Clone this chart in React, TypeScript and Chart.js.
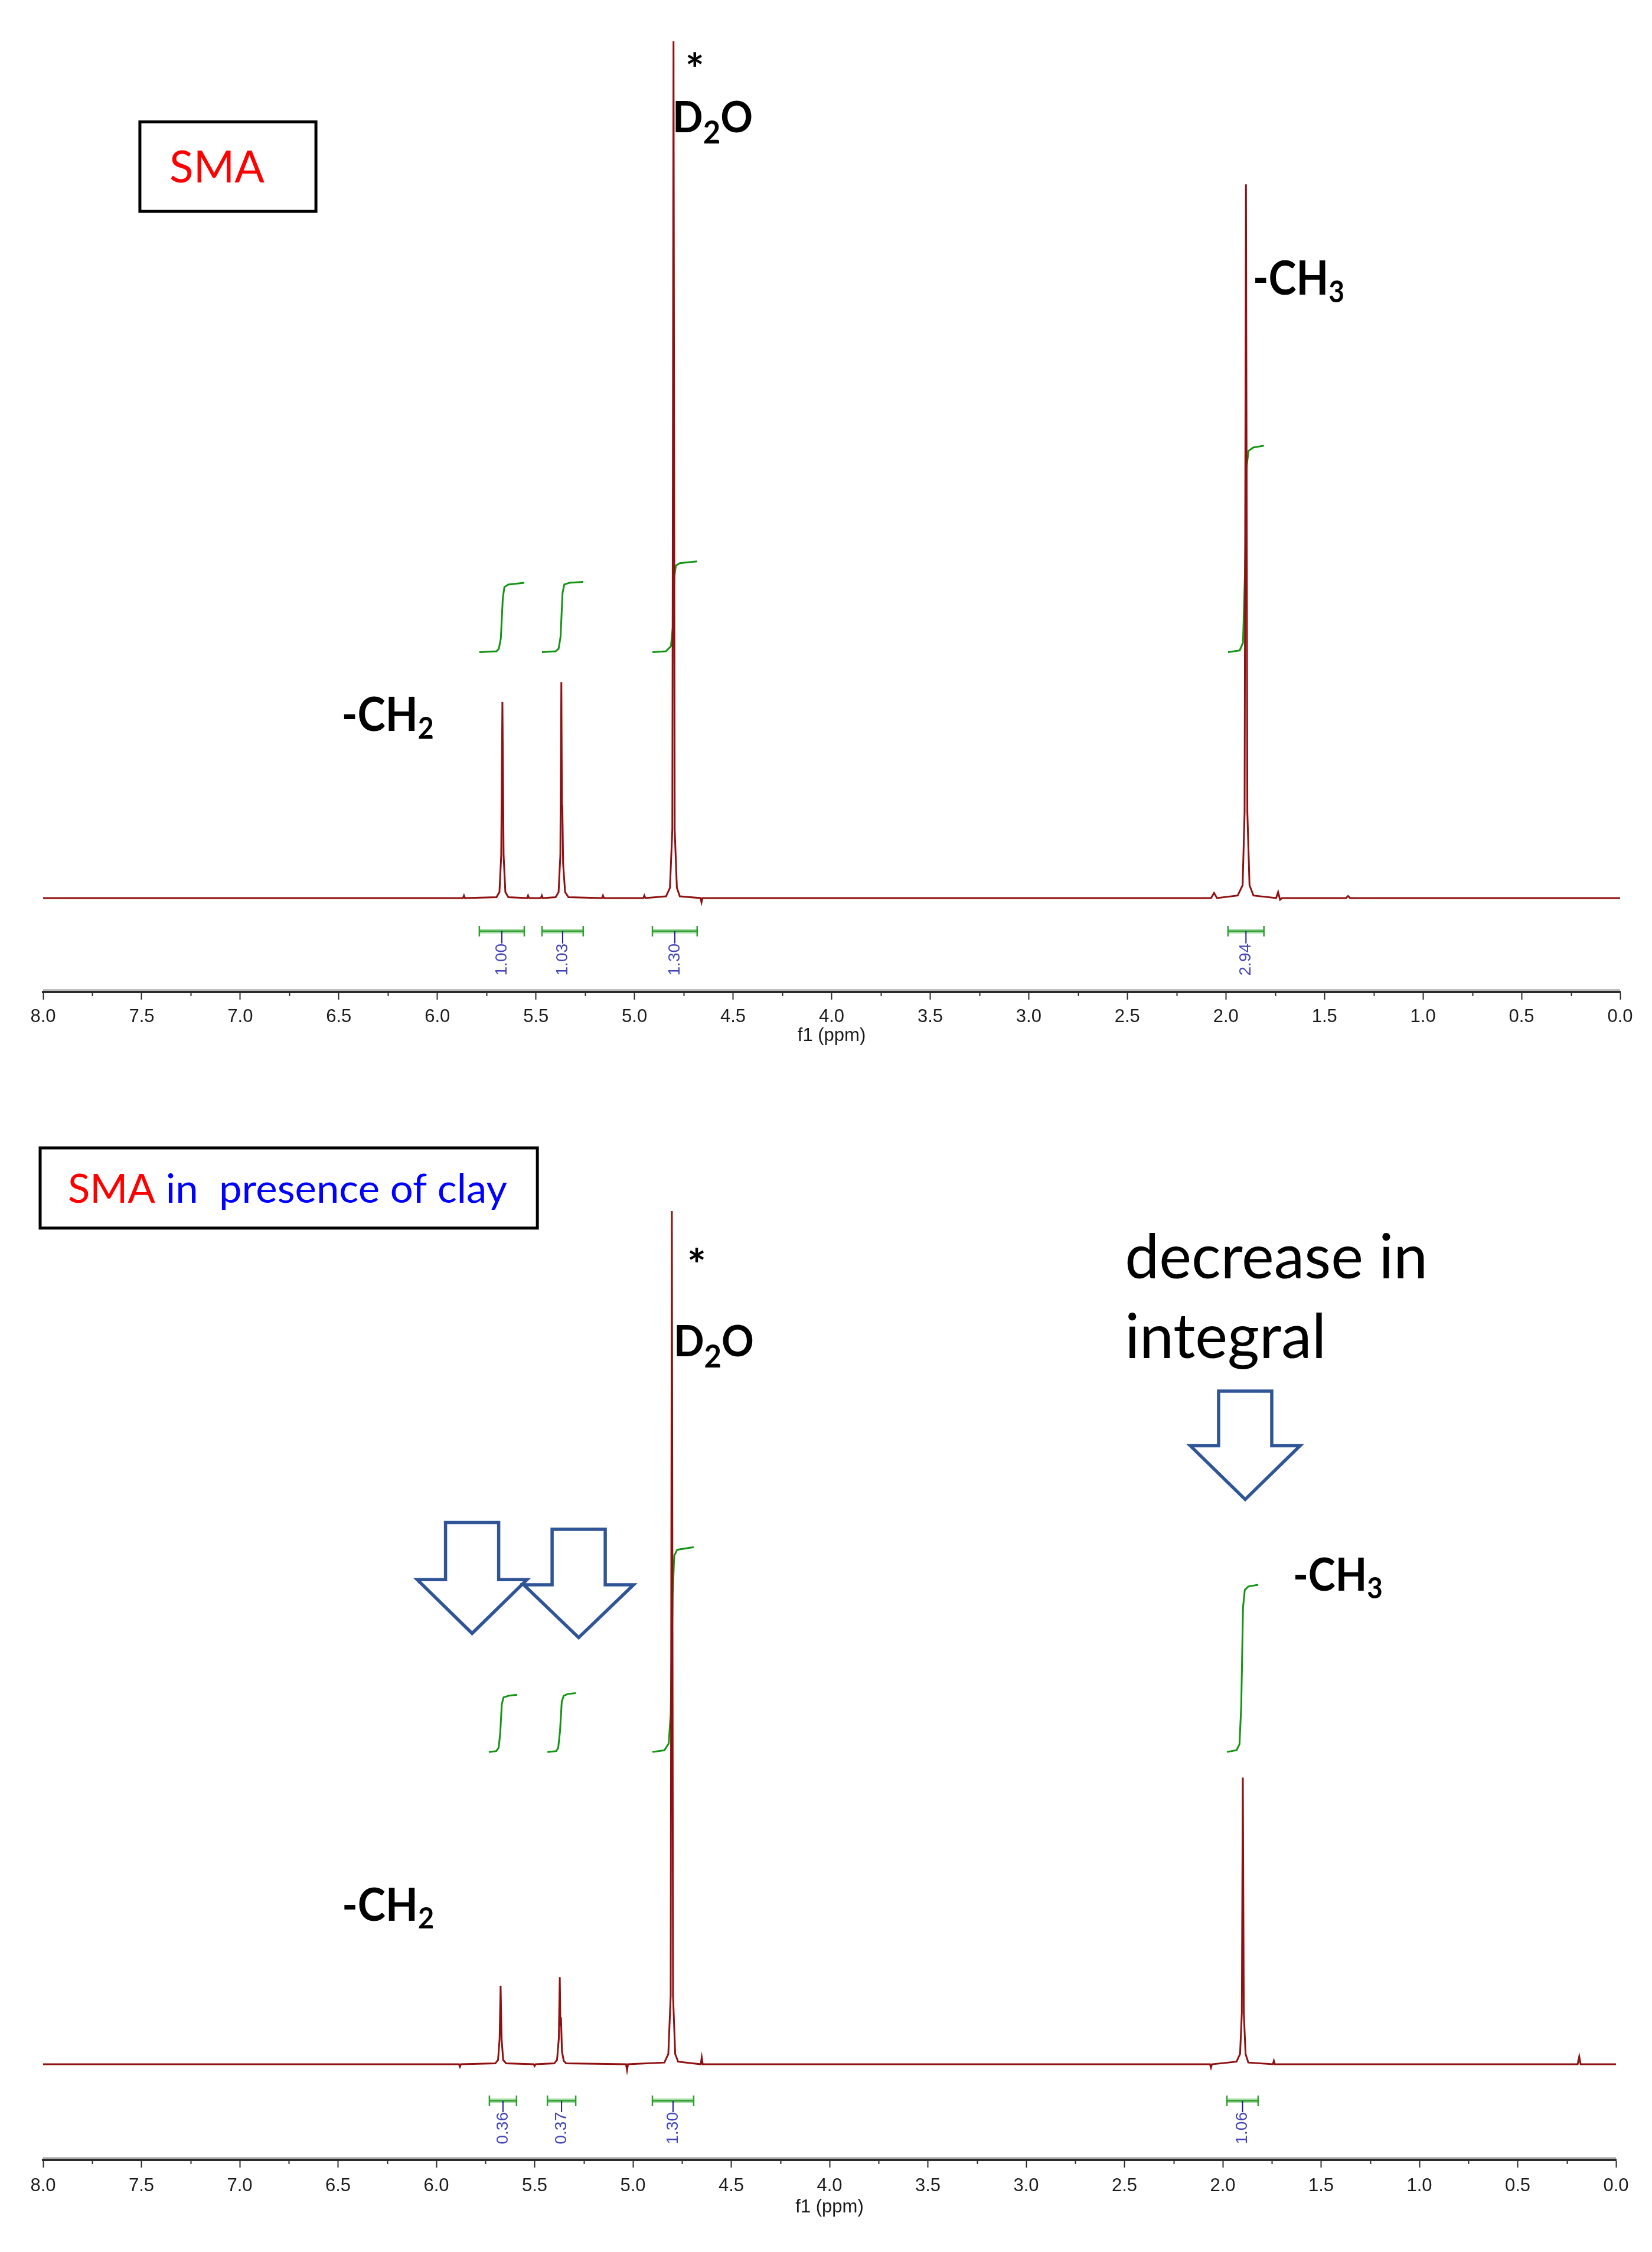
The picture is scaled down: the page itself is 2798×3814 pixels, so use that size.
import { useEffect, useRef } from 'react';
import { Chart, registerables } from 'chart.js';

Chart.register(...registerables);

type Pt = [number, number];

// ---------------- axis ticks (ppm) ----------------
const ppmMajorTicks = [0, 0.5, 1, 1.5, 2, 2.5, 3, 3.5, 4, 4.5, 5, 5.5, 6, 6.5, 7, 7.5, 8];
const ppmMinorTicks = [0.25, 0.75, 1.25, 1.75, 2.25, 2.75, 3.25, 3.75, 4.25, 4.75, 5.25, 5.75, 6.25, 6.75, 7.25, 7.75];
const axisTitle = 'f1 (ppm)';

// ---------------- SMA spectrum (ppm, intensity) ----------------
const smaSpectrum: Pt[] = [
  [8.0, 0], [6.2, 0], [5.87, 0], [5.865, 0.3], [5.86, 0],
  [5.70, 0.1], [5.685, 0.7], [5.676, 5], [5.670, 22.9], [5.664, 5], [5.655, 0.7], [5.64, 0.1],
  [5.545, 0], [5.54, 0.3], [5.535, 0], [5.475, 0], [5.47, 0.3], [5.465, 0],
  [5.40, 0.1], [5.385, 0.7], [5.376, 5], [5.371, 25.2], [5.368, 10], [5.366, 10.8], [5.362, 4], [5.352, 0.7], [5.335, 0.1],
  [5.165, 0], [5.16, 0.3], [5.155, 0], [4.955, 0], [4.95, 0.3], [4.945, 0],
  [4.84, 0.2], [4.82, 1.2], [4.808, 8], [4.802, 100], [4.796, 8], [4.785, 1.2], [4.77, 0.2],
  [4.665, 0], [4.66, -0.5], [4.655, 0],
  [2.075, 0], [2.06, 0.6], [2.045, 0],
  [1.94, 0.3], [1.915, 1.5], [1.905, 10], [1.898, 83.3], [1.891, 10], [1.88, 1.5], [1.86, 0.3],
  [1.745, 0], [1.735, 0.7], [1.725, -0.2], [1.715, 0],
  [1.39, 0], [1.38, 0.25], [1.37, 0], [0, 0],
];

// SMA integral curves (ppm, running integral)
const smaIntegralCH2a: Pt[] = [[5.787, 28.7], [5.70, 28.8], [5.688, 29.1], [5.678, 30.3], [5.668, 35.0], [5.660, 36.3], [5.64, 36.6], [5.559, 36.8]];
const smaIntegralCH2b: Pt[] = [[5.469, 28.7], [5.40, 28.8], [5.385, 29.1], [5.375, 30.5], [5.365, 35.6], [5.356, 36.6], [5.33, 36.8], [5.260, 36.9]];
const smaIntegralD2O: Pt[] = [[4.909, 28.7], [4.84, 28.8], [4.815, 29.4], [4.806, 31.5], [4.798, 37.5], [4.79, 38.8], [4.77, 39.1], [4.682, 39.3]];
const smaIntegralCH3: Pt[] = [[1.989, 28.7], [1.93, 28.9], [1.913, 29.8], [1.903, 38], [1.894, 50.5], [1.885, 52.2], [1.86, 52.6], [1.807, 52.8]];
const smaIntegralRanges: Pt[] = [[5.787, 5.559], [5.469, 5.260], [4.909, 4.682], [1.989, 1.807]];
const smaIntegralValues = ['1.00', '1.03', '1.30', '2.94'];

// ---------------- SMA + clay spectrum ----------------
const claySpectrum: Pt[] = [
  [8.0, 0], [6.2, 0], [5.885, 0], [5.88, -0.3], [5.875, 0],
  [5.70, 0.1], [5.686, 0.5], [5.678, 3], [5.673, 9.2], [5.668, 3], [5.66, 0.5], [5.645, 0.1],
  [5.505, 0], [5.50, -0.2], [5.495, 0],
  [5.40, 0.1], [5.386, 0.5], [5.377, 3], [5.372, 10.2], [5.369, 4.5], [5.366, 5.5], [5.361, 1.5], [5.352, 0.4], [5.34, 0.1],
  [5.035, 0], [5.03, -0.7], [5.025, 0],
  [4.84, 0.2], [4.82, 1.2], [4.808, 8], [4.802, 100], [4.796, 8], [4.785, 1.2], [4.77, 0.3],
  [4.655, 0], [4.65, 0.8], [4.645, 0],
  [2.065, 0], [2.06, -0.4], [2.055, 0],
  [1.93, 0.3], [1.912, 1.2], [1.903, 6], [1.898, 33.6], [1.893, 6], [1.884, 1.2], [1.87, 0.2],
  [1.745, 0], [1.74, 0.4], [1.735, 0],
  [0.195, 0], [0.187, 0.9], [0.18, 0], [0, 0],
];

const clayIntegralCH2a: Pt[] = [[5.733, 36.6], [5.695, 36.7], [5.683, 37.1], [5.675, 38.8], [5.667, 42.2], [5.658, 43.0], [5.63, 43.2], [5.589, 43.3]];
const clayIntegralCH2b: Pt[] = [[5.435, 36.6], [5.39, 36.7], [5.38, 37.1], [5.371, 39.0], [5.362, 42.5], [5.352, 43.2], [5.33, 43.4], [5.291, 43.5]];
const clayIntegralD2O: Pt[] = [[4.901, 36.6], [4.84, 36.8], [4.818, 37.6], [4.808, 41], [4.798, 55], [4.79, 59.6], [4.775, 60.3], [4.691, 60.6]];
const clayIntegralCH3: Pt[] = [[1.979, 36.6], [1.93, 36.8], [1.915, 37.5], [1.906, 42], [1.897, 53.5], [1.888, 55.6], [1.87, 56.0], [1.820, 56.2]];
const clayIntegralRanges: Pt[] = [[5.730, 5.592], [5.435, 5.291], [4.901, 4.691], [1.979, 1.820]];
const clayIntegralValues = ['0.36', '0.37', '1.30', '1.06'];

// ---------------- annotation layout ----------------
type Seg = { t: string; sub?: boolean; color?: string };
type TextCfg = { segs: Seg[]; ppm: number; val: number; size: number; weight: number; width: number; subSize?: number; subDrop?: number };
type ArrowCfg = { ppm: number; top: number; shoulder: number; tip: number };
type BoxCfg = { p1: number; p2: number; v1: number; v2: number };

type Panel = {
  canvasH: number; padTop: number; padLeft: number; padRight: number; axisH: number;
  yMin: number; yMax: number; tickPad: number; titlePadBottom: number;
  spectrum: Pt[]; integrals: Pt[][]; ranges: Pt[]; values: string[];
  bracketOffset: number; labelOffset: number;
  box: BoxCfg; texts: TextCfg[]; arrows: ArrowCfg[];
};

const RED = '#FF0000';
const BLUE = '#0000FF';

const topPanel: Panel = {
  canvasH: 1790, padTop: 62, padLeft: 65, padRight: 46, axisH: 118,
  yMin: -10.96, yMax: 100, tickPad: 11, titlePadBottom: 25,
  spectrum: smaSpectrum,
  integrals: [smaIntegralCH2a, smaIntegralCH2b, smaIntegralD2O, smaIntegralCH3],
  ranges: smaIntegralRanges, values: smaIntegralValues,
  bracketOffset: 56, labelOffset: 21,
  box: { p1: 7.509, p2: 6.616, v1: 90.6, v2: 80.15 },
  texts: [
    { segs: [{ t: 'SMA', color: RED }], ppm: 7.359, val: 83.5, size: 75, weight: 400, width: 161 },
    { segs: [{ t: '*' }], ppm: 4.742, val: 94.9, size: 72, weight: 700, width: 32 },
    { segs: [{ t: 'D' }, { t: '2', sub: true }, { t: 'O' }], ppm: 4.807, val: 89.4, size: 72, weight: 700, width: 136, subSize: 54, subDrop: 19 },
    { segs: [{ t: '-CH' }, { t: '3', sub: true }], ppm: 1.863, val: 70.4, size: 80, weight: 700, width: 155, subSize: 52, subDrop: 13 },
    { segs: [{ t: '-CH' }, { t: '2', sub: true }], ppm: 6.485, val: 19.5, size: 80, weight: 700, width: 156, subSize: 52, subDrop: 13 },
  ],
  arrows: [],
};

const bottomPanel: Panel = {
  canvasH: 1980, padTop: 253, padLeft: 65, padRight: 53, axisH: 120,
  yMin: -11.21, yMax: 100, tickPad: 13, titlePadBottom: 21,
  spectrum: claySpectrum,
  integrals: [clayIntegralCH2a, clayIntegralCH2b, clayIntegralD2O, clayIntegralCH3],
  ranges: clayIntegralRanges, values: clayIntegralValues,
  bracketOffset: 62, labelOffset: 19,
  box: { p1: 8.015, p2: 5.486, v1: 107.4, v2: 98.0 },
  texts: [
    { segs: [{ t: 'SMA', color: RED }, { t: ' in  presence of clay', color: BLUE }], ppm: 7.874, val: 100.97, size: 68, weight: 400, width: 744 },
    { segs: [{ t: '*' }], ppm: 4.724, val: 91.8, size: 72, weight: 700, width: 32 },
    { segs: [{ t: 'D' }, { t: '2', sub: true }, { t: 'O' }], ppm: 4.793, val: 83.0, size: 72, weight: 700, width: 136, subSize: 54, subDrop: 19 },
    { segs: [{ t: 'decrease in' }], ppm: 2.498, val: 92.1, size: 105, weight: 400, width: 513 },
    { segs: [{ t: 'integral' }], ppm: 2.498, val: 82.8, size: 105, weight: 400, width: 341 },
    { segs: [{ t: '-CH' }, { t: '3', sub: true }], ppm: 1.643, val: 55.5, size: 76, weight: 700, width: 152, subSize: 50, subDrop: 13 },
    { segs: [{ t: '-CH' }, { t: '2', sub: true }], ppm: 6.48, val: 16.8, size: 76, weight: 700, width: 156, subSize: 50, subDrop: 13 },
  ],
  arrows: [
    { ppm: 5.818, top: 63.5, shoulder: 56.8, tip: 50.5 },
    { ppm: 5.276, top: 62.7, shoulder: 56.2, tip: 50.0 },
    { ppm: 1.886, top: 78.9, shoulder: 72.5, tip: 66.2 },
  ],
};

// ---------------- drawing helpers ----------------
function drawRich(ctx: CanvasRenderingContext2D, cfg: TextCfg, x: number, baseline: number) {
  const fontFor = (s: Seg) => `${cfg.weight} ${s.sub ? cfg.subSize || cfg.size * 0.65 : cfg.size}px Lato, "Open Sans", sans-serif`;
  let total = 0;
  const widths = cfg.segs.map((s) => {
    ctx.font = fontFor(s);
    const m = ctx.measureText(s.t);
    total += m.width;
    return m.width;
  });
  const sx = cfg.width ? cfg.width / total : 1;
  ctx.save();
  ctx.translate(x, baseline);
  ctx.scale(sx, 1);
  ctx.textAlign = 'left';
  ctx.textBaseline = 'alphabetic';
  let cx = 0;
  cfg.segs.forEach((s, i) => {
    ctx.font = fontFor(s);
    ctx.fillStyle = s.color || '#000000';
    ctx.fillText(s.t, cx, s.sub ? cfg.subDrop || 0 : 0);
    cx += widths[i];
  });
  ctx.restore();
}

function makeDecor(panel: Panel) {
  return {
    id: 'nmrDecor',
    afterDraw(chart: any) {
      const ctx: CanvasRenderingContext2D = chart.ctx;
      const xs = chart.scales.x;
      const ys = chart.scales.y;
      const area = chart.chartArea;
      const px = (p: number) => xs.getPixelForValue(p);
      const py = (v: number) => ys.getPixelForValue(v);
      ctx.save();

      // axis: light band above the axis line + minor ticks
      ctx.strokeStyle = '#bdbdbd';
      ctx.lineWidth = 3;
      ctx.beginPath();
      ctx.moveTo(area.left, area.bottom - 3.5);
      ctx.lineTo(area.right, area.bottom - 3.5);
      ctx.stroke();
      ctx.strokeStyle = '#2a2a2a';
      ctx.lineWidth = 2;
      ppmMinorTicks.forEach((v) => {
        const x = Math.round(px(v)) + 0.5;
        ctx.beginPath();
        ctx.moveTo(x, area.bottom);
        ctx.lineTo(x, area.bottom + 7);
        ctx.stroke();
      });

      // integral brackets and values
      const base = py(0);
      const by = base + panel.bracketOffset;
      panel.ranges.forEach(([a, b], i) => {
        const x1 = px(a);
        const x2 = px(b);
        const xc = (x1 + x2) / 2;
        ctx.strokeStyle = 'rgba(70,180,70,0.45)';
        ctx.lineWidth = 8;
        ctx.beginPath();
        ctx.moveTo(x1, by);
        ctx.lineTo(x2, by);
        ctx.stroke();
        ctx.strokeStyle = '#2E9E2E';
        ctx.lineWidth = 2.5;
        ctx.beginPath();
        ctx.moveTo(x1, by);
        ctx.lineTo(x2, by);
        ctx.moveTo(x1, by - 9);
        ctx.lineTo(x1, by + 9);
        ctx.moveTo(x2, by - 9);
        ctx.lineTo(x2, by + 9);
        ctx.stroke();
        ctx.strokeStyle = '#1C1C8C';
        ctx.lineWidth = 2;
        ctx.beginPath();
        ctx.moveTo(xc, by);
        ctx.lineTo(xc, by + panel.labelOffset);
        ctx.stroke();
        ctx.save();
        ctx.translate(xc, by + panel.labelOffset);
        ctx.rotate(-Math.PI / 2);
        ctx.font = '28px "Liberation Sans", Arial, sans-serif';
        ctx.fillStyle = '#4444B4';
        ctx.textAlign = 'right';
        ctx.textBaseline = 'middle';
        ctx.fillText(panel.values[i], 0, 0);
        ctx.restore();
      });

      // title box
      const b = panel.box;
      ctx.strokeStyle = '#000000';
      ctx.lineWidth = 5;
      ctx.strokeRect(px(b.p1), py(b.v1), px(b.p2) - px(b.p1), py(b.v2) - py(b.v1));

      // hollow arrows
      ctx.strokeStyle = '#2F5597';
      ctx.lineWidth = 5.5;
      ctx.lineJoin = 'miter';
      panel.arrows.forEach((a) => {
        const cx = px(a.ppm);
        const sw = 45;
        const hw = 93;
        ctx.beginPath();
        ctx.moveTo(cx - sw, py(a.top));
        ctx.lineTo(cx + sw, py(a.top));
        ctx.lineTo(cx + sw, py(a.shoulder));
        ctx.lineTo(cx + hw, py(a.shoulder));
        ctx.lineTo(cx, py(a.tip));
        ctx.lineTo(cx - hw, py(a.shoulder));
        ctx.lineTo(cx - sw, py(a.shoulder));
        ctx.closePath();
        ctx.stroke();
      });

      // texts
      panel.texts.forEach((t) => drawRich(ctx, t, px(t.ppm), py(t.val)));
      ctx.restore();
    },
  };
}

function NmrPanel({ panel }: { panel: Panel }) {
  const ref = useRef<HTMLCanvasElement>(null);
  useEffect(() => {
    const canvas = ref.current;
    if (!canvas) return;
    const lineDs = (pts: Pt[], color: string, label: string, width: number) => ({
      label,
      data: pts.map(([x, y]) => ({ x, y })),
      borderColor: color,
      backgroundColor: color,
      borderWidth: width,
      pointRadius: 0,
      tension: 0,
      fill: false,
    });
    const chart = new Chart(canvas, {
      type: 'line',
      data: {
        datasets: [
          lineDs(panel.spectrum, '#8E1010', 'spectrum', 3),
          ...panel.integrals.map((p, i) => lineDs(p, '#149414', 'integral ' + (i + 1), 3)),
        ],
      },
      options: {
        responsive: false,
        animation: false,
        devicePixelRatio: 1,
        events: [],
        layout: { padding: { top: panel.padTop, left: panel.padLeft, right: panel.padRight, bottom: 0 } },
        plugins: { legend: { display: false }, tooltip: { enabled: false } },
        scales: {
          x: {
            type: 'linear',
            reverse: true,
            min: 0,
            max: 8,
            afterBuildTicks: (scale: any) => {
              scale.ticks = ppmMajorTicks.map((v) => ({ value: v }));
            },
            afterFit: (scale: any) => {
              scale.height = panel.axisH;
            },
            ticks: {
              autoSkip: false,
              maxRotation: 0,
              padding: panel.tickPad,
              color: '#1a1a1a',
              font: { family: '"Liberation Sans", Arial, sans-serif', size: 31 },
              callback: (v: any) => Number(v).toFixed(1),
            },
            grid: { drawOnChartArea: false, drawTicks: true, tickLength: 13, tickWidth: 2, tickColor: '#2a2a2a' },
            border: { display: true, color: '#2a2a2a', width: 4 },
            title: {
              display: true,
              text: axisTitle,
              color: '#1a1a1a',
              font: { family: '"Liberation Sans", Arial, sans-serif', size: 31 },
              padding: { top: 0, bottom: panel.titlePadBottom },
            },
          },
          y: { type: 'linear', display: false, min: panel.yMin, max: panel.yMax },
        },
      },
      plugins: [makeDecor(panel)],
    } as any);
    return () => chart.destroy();
  }, [panel]);
  return (
    <canvas
      ref={ref}
      width={2782}
      height={panel.canvasH}
      style={{ display: 'block', width: '2782px', height: panel.canvasH + 'px' }}
    />
  );
}

export default function App() {
  return (
    <div style={{ width: 2782, background: '#ffffff' }}>
      <NmrPanel panel={topPanel} />
      <NmrPanel panel={bottomPanel} />
    </div>
  );
}
